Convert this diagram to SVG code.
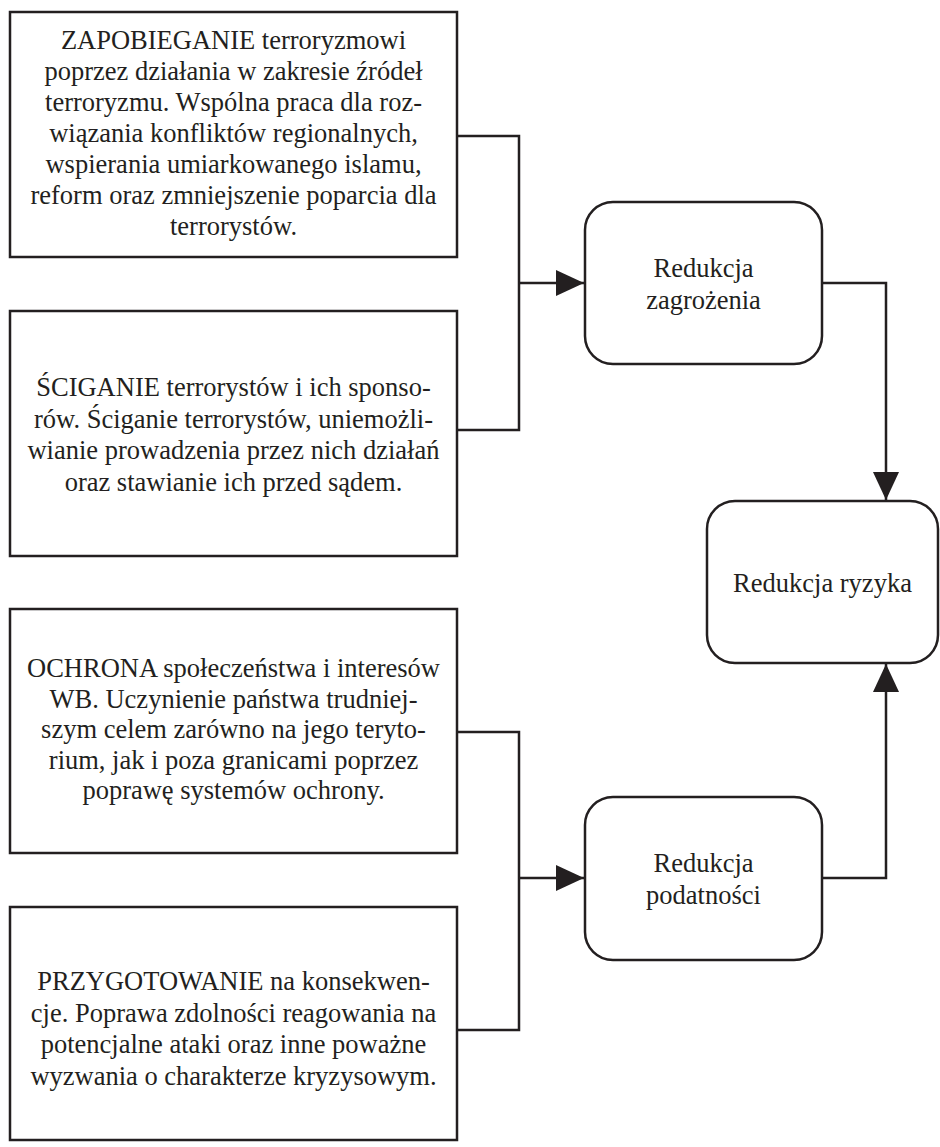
<svg xmlns="http://www.w3.org/2000/svg" width="940" height="1147" viewBox="0 0 940 1147">
<defs>
<style>
.box{fill:#fff;stroke:#231f20;stroke-width:2.5}
.rbox{fill:#fff;stroke:#231f20;stroke-width:2.5}
.t{font-family:"Liberation Serif","DejaVu Serif",serif;font-size:26.5px;fill:#231f20;text-anchor:middle}
.c{fill:none;stroke:#231f20;stroke-width:2.5}
</style>
<marker id="ah" markerUnits="userSpaceOnUse" markerWidth="28" markerHeight="28" viewBox="0 0 28 28" refX="28" refY="14" orient="auto">
<path d="M0,1 L28,14 L0,27 Z" fill="#231f20"/>
</marker>
</defs>
<rect width="940" height="1147" fill="#fff"/>
<g id="connectors">
<path class="c" d="M457,136 H519 V430 H457"/>
<path class="c" d="M519,283 H584" marker-end="url(#ah)"/>
<path class="c" d="M821,283 H886 V500" marker-end="url(#ah)"/>
<path class="c" d="M457,732 H519 V1030 H457"/>
<path class="c" d="M519,878 H584" marker-end="url(#ah)"/>
<path class="c" d="M821,878 H886 V664" marker-end="url(#ah)"/>
</g>
<g id="zapobieganie">
<rect class="box" x="10" y="12" width="447" height="245"/>
<text class="t" x="233.5" y="49">ZAPOBIEGANIE terroryzmowi</text>
<text class="t" x="233.5" y="80">poprzez działania w zakresie źródeł</text>
<text class="t" x="233.5" y="111">terroryzmu. Wspólna praca dla roz-</text>
<text class="t" x="233.5" y="142">wiązania konfliktów regionalnych,</text>
<text class="t" x="233.5" y="173">wspierania umiarkowanego islamu,</text>
<text class="t" x="233.5" y="204">reform oraz zmniejszenie poparcia dla</text>
<text class="t" x="233.5" y="235">terrorystów.</text>
</g>
<g id="sciganie">
<rect class="box" x="10" y="311" width="447" height="245"/>
<text class="t" x="233.5" y="396">ŚCIGANIE terrorystów i ich sponso-</text>
<text class="t" x="233.5" y="427.5">rów. Ściganie terrorystów, uniemożli-</text>
<text class="t" x="233.5" y="459">wianie prowadzenia przez nich działań</text>
<text class="t" x="233.5" y="490.5">oraz stawianie ich przed sądem.</text>
</g>
<g id="ochrona">
<rect class="box" x="10" y="609" width="447" height="244"/>
<text class="t" x="233.5" y="677">OCHRONA społeczeństwa i interesów</text>
<text class="t" x="233.5" y="707.5">WB. Uczynienie państwa trudniej-</text>
<text class="t" x="233.5" y="738">szym celem zarówno na jego teryto-</text>
<text class="t" x="233.5" y="768.5">rium, jak i poza granicami poprzez</text>
<text class="t" x="233.5" y="799">poprawę systemów ochrony.</text>
</g>
<g id="przygotowanie">
<rect class="box" x="10" y="907" width="447" height="233"/>
<text class="t" x="233.5" y="990">PRZYGOTOWANIE na konsekwen-</text>
<text class="t" x="233.5" y="1021.5">cje. Poprawa zdolności reagowania na</text>
<text class="t" x="233.5" y="1053">potencjalne ataki oraz inne poważne</text>
<text class="t" x="233.5" y="1084.5">wyzwania o charakterze kryzysowym.</text>
</g>
<g id="redukcja-zagrozenia">
<rect class="rbox" x="585" y="202" width="237" height="162" rx="28" ry="28"/>
<text class="t" x="703.5" y="277">Redukcja</text>
<text class="t" x="703.5" y="309">zagrożenia</text>
</g>
<g id="redukcja-podatnosci">
<rect class="rbox" x="585" y="797" width="237" height="163" rx="28" ry="28"/>
<text class="t" x="703.5" y="872">Redukcja</text>
<text class="t" x="703.5" y="904">podatności</text>
</g>
<g id="redukcja-ryzyka">
<rect class="rbox" x="707" y="501" width="231" height="162" rx="28" ry="28"/>
<text class="t" x="822.5" y="592">Redukcja ryzyka</text>
</g>
</svg>
